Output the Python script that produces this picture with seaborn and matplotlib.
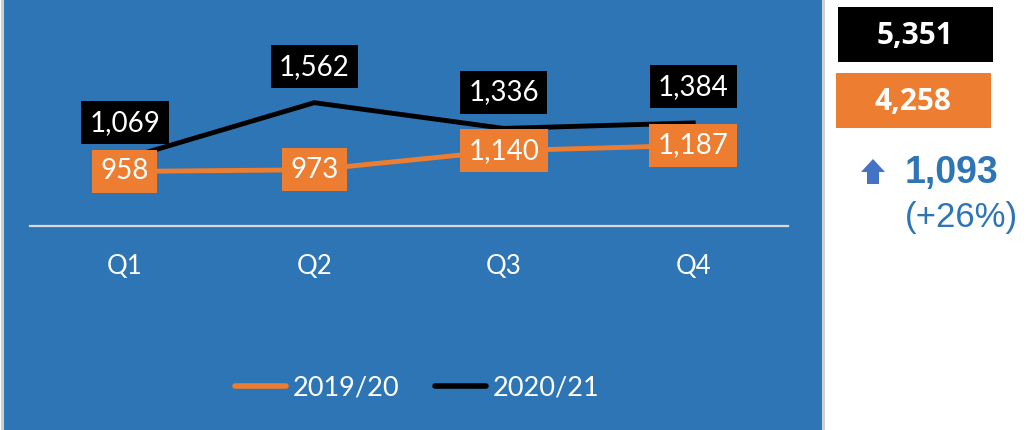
import matplotlib
matplotlib.use("Agg")
import matplotlib.pyplot as plt
from matplotlib.patches import Rectangle, Polygon
from matplotlib.lines import Line2D
import seaborn as sns
import pandas as pd

# ---- data ----
quarters = ["Q1", "Q2", "Q3", "Q4"]
series_names = ["2019/20", "2020/21"]
values_1920 = [958, 973, 1140, 1187]
values_2021 = [1069, 1562, 1336, 1384]
total_1920 = "4,258"
total_2021 = "5,351"
change_text = "1,093"
change_pct = "(+26%)"

BLUE = "#2E75B6"
ORANGE = "#ED7D31"
BLACK = "#000000"

W, H = 1033, 430
fig = plt.figure(figsize=(W / 100, H / 100), dpi=100)
fig.patch.set_facecolor("white")

def fx(px):
    return px / W

def fy(py):
    return 1 - py / H

# blue panel with grey border
panel = Rectangle((fx(1.5), fy(440)), fx(821), 460 / H, transform=fig.transFigure,
                  facecolor=BLUE, edgecolor="#D0D0D0", linewidth=2.2, zorder=-5)
fig.patches.append(panel)

# axes placement: x from 30 to 788 px, y from 20 to 226 px
ax = fig.add_axes([fx(30), fy(226), fx(758), (226 - 20) / H])
ax.set_facecolor("none")
ax.set_zorder(2)

df = pd.DataFrame({
    "quarter": quarters * 2,
    "value": values_1920 + values_2021,
    "series": [series_names[0]] * 4 + [series_names[1]] * 4,
})
sns.lineplot(data=df, x="quarter", y="value", hue="series",
             palette={series_names[0]: ORANGE, series_names[1]: BLACK},
             linewidth=3.5, ax=ax, legend=False, sort=False)

ax.set_xlim(-0.5, 3.5)
ax.set_ylim(479, 2288)
ax.set_xlabel("")
ax.set_ylabel("")
ax.set_yticks([])
for s in ["top", "left", "right"]:
    ax.spines[s].set_visible(False)
ax.spines["bottom"].set_color("#D9D9D9")
ax.spines["bottom"].set_linewidth(1.6)
ax.set_xticks(range(len(quarters)))
ax.set_xticklabels(quarters, fontfamily="Lato", fontsize=18.5, color="white")
ax.tick_params(axis="x", length=0, pad=20)

# data labels
for i, v in enumerate(values_2021):
    ax.annotate(f"{v:,}", (i, v), xytext=(0, 26), textcoords="offset points",
                ha="center", va="center", fontfamily="Lato", fontsize=20, color="white",
                bbox=dict(boxstyle="square,pad=0.3", facecolor=BLACK, edgecolor="none"),
                zorder=5)
for i, v in enumerate(values_1920):
    ax.annotate(f"{v:,}", (i, v), xytext=(0, 0), textcoords="offset points",
                ha="center", va="center", fontfamily="Lato", fontsize=20, color="white",
                bbox=dict(boxstyle="square,pad=0.3", facecolor=ORANGE, edgecolor="none"),
                zorder=6)

# legend
handles = [Line2D([0], [0], color=ORANGE, lw=4, solid_capstyle="round"),
           Line2D([0], [0], color=BLACK, lw=4, solid_capstyle="round")]
leg = fig.legend(handles, series_names, loc="center", bbox_to_anchor=(fx(417), fy(388)),
                 ncol=2, frameon=False, handlelength=1.9, handletextpad=0.25,
                 columnspacing=1.3, prop={"family": "Lato", "size": 19.5})
for t in leg.get_texts():
    t.set_color("white")

# right-side summary
fig.patches.append(Rectangle((fx(838), fy(62)), fx(155), 55 / H, transform=fig.transFigure,
                             facecolor=BLACK, edgecolor="none"))
fig.patches.append(Rectangle((fx(836), fy(128)), fx(155), 55 / H, transform=fig.transFigure,
                             facecolor=ORANGE, edgecolor="none"))
fig.text(fx(915), fy(36), total_2021, ha="center", va="center", color="white",
         fontfamily="Open Sans", fontweight="bold", fontsize=21.5)
fig.text(fx(913), fy(102), total_1920, ha="center", va="center", color="white",
         fontfamily="Open Sans", fontweight="bold", fontsize=21.5)

arrow_pts = [(861, 172), (873, 159), (885, 172), (879, 172), (879, 184), (867, 184), (867, 172)]
fig.patches.append(Polygon([(fx(x), fy(y)) for x, y in arrow_pts], closed=True,
                           transform=fig.transFigure, facecolor="#4472C4", edgecolor="none"))
fig.text(fx(905), fy(173), change_text, ha="left", va="center", color=BLUE,
         fontfamily="Liberation Sans", fontweight="bold", fontsize=27)
fig.text(fx(905), fy(217), change_pct, ha="left", va="center", color=BLUE,
         fontfamily="Liberation Sans", fontsize=25)

fig.savefig("out.png", dpi=100)
